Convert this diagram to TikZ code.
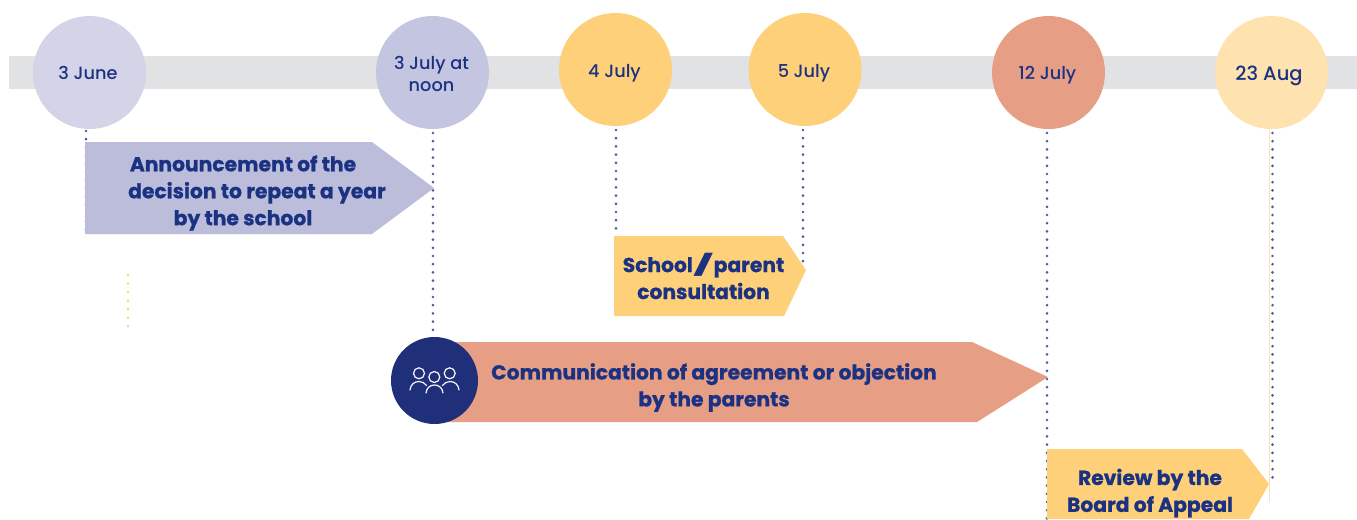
\documentclass[tikz,border=0pt]{standalone}
\usepackage{fontspec}
\setmainfont[BoldFeatures={FakeBold=0.9}]{Poppins}
\newfontfamily\datefont{Poppins Medium}
\definecolor{band}{HTML}{E1E2E4}
\definecolor{ink}{HTML}{1B3282}
\definecolor{lilaca}{HTML}{D3D4E8}
\definecolor{lilacb}{HTML}{C4C5E0}
\definecolor{lilacc}{HTML}{BCBDDB}
\definecolor{sun}{HTML}{FED07A}
\definecolor{salmon}{HTML}{E69E85}
\definecolor{cream}{HTML}{FEE2B0}
\definecolor{navy}{HTML}{1F2F7A}
\definecolor{dotc}{HTML}{4F5AA0}
\tikzset{
  x=0.75pt,y=-0.75pt,
  datenode/.style={circle,minimum size=84.75pt,inner sep=0pt},
  datetext/.style={text=ink,align=center,inner sep=0pt,
    font=\fontsize{13.3pt}{16.5pt}\datefont},
  labelnode/.style={text=ink,align=center,inner sep=0pt,
    font=\fontsize{15.2pt}{20.2pt}\selectfont\bfseries},
  dotline/.style={draw=dotc,line width=2.2pt,line cap=round,dash pattern=on 0pt off 6.15pt},
}
\begin{document}
\begin{tikzpicture}
\useasboundingbox (0,0) rectangle (1357,519);
\fill[white] (0,0) rectangle (1357,519);
\fill[band] (9,56) rectangle (1357,89);
% dates
\node[datenode,fill=lilaca] (d1) at (89.5,72.5) {};
\node[datenode,fill=lilacb] (d2) at (432.5,72.5) {};
\node[datenode,fill=sun] (d3) at (615.5,69.5) {};
\node[datenode,fill=sun] (d4) at (805,69.5) {};
\node[datenode,fill=salmon] (d5) at (1048.5,72.5) {};
\node[datenode,fill=cream] (d6) at (1271.5,72.5) {};
\node[datetext] (n1) at (88,73) {3 June};
\node[datetext] (n2) at (431.5,74) {3 July at\\noon};
\node[datetext] (n3) at (614.5,73.5) {4 July};
\node[datetext] (n4) at (804,73.5) {5 July};
\node[datetext] (n5) at (1047.5,75.5) {12 July};
\node[datetext,font=\fontsize{14.6pt}{16.5pt}\datefont] (n6) at (1269,76) {23 Aug};
% free ends of connectors
\coordinate (e1) at (86,234);
\coordinate (t1) at (86,131);
\coordinate (e2) at (433,332);
\coordinate (t2) at (433,133);
\coordinate (e3) at (616,232);
\coordinate (t3) at (616,130);
\coordinate (e4) at (803,265);
\coordinate (t4) at (803,130);
\coordinate (e5) at (1047,519);
\coordinate (t5) at (1047,133);
\coordinate (e6) at (1272.5,478);
\coordinate (t6) at (1272.5,133);
\coordinate (c0) at (1269.5,130);
\coordinate (c1) at (1269.5,502);
\coordinate (y0) at (128,275);
\coordinate (y1) at (128,327);
\draw[cream,line width=0.9pt] (c0) -- (c1);
\draw[dotline] (t1) -- (e1);
\draw[dotline] (t2) -- (e2);
\draw[dotline] (t3) -- (e3);
\draw[dotline] (t4) -- (e4);
\draw[dotline] (t5) -- (e5);
\draw[dotline] (t6) -- (e6);
\draw[draw=sun,line width=2.1pt,line cap=round,dash pattern=on 0pt off 6.4pt] (y0) -- (y1);
% arrows
\fill[lilacc] (85,142) -- (372,142) -- (434,188) -- (372,234) -- (85,234) -- cycle;
\fill[sun] (614,236) -- (783,236) -- (806,270) -- (784,316) -- (614,316) -- cycle;
\fill[salmon] (440,342) -- (972,342) -- (1048,377) -- (977,422) -- (440,422) -- cycle;
\fill[sun] (1047,449) -- (1242,449) -- (1269,484) -- (1249,519) -- (1047,519) -- cycle;
% labels
\node[labelnode] (l1) at (243,193) {Announcement of the\\\hspace*{21pt}decision to repeat a year\\by the school};
\node[labelnode] (l2) at (703.5,276) {School\kern1pt{\datefont\scalebox{2.1}[1]{/}}\kern1pt parent\\consultation};
\node[labelnode] (l3) at (714,387.5) {Communication of agreement or objection\\by the parents};
\node[labelnode] (l4) at (1150,493) {Review by the\\Board of Appeal};
% icon
\node[circle,fill=navy,minimum size=65.25pt,inner sep=0pt] (badge) at (434.5,380.5) {};
\begin{scope}[draw=white!90!lilacb,line width=0.9pt,line cap=round]
\draw (419,373.3) circle[radius=5.5];
\draw (434.3,377) circle[radius=5.5];
\draw (449.7,373.3) circle[radius=5.5];
\draw (410,390) .. controls (410.5,384) and (415,381.5) .. (419,381.5) .. controls (422,381.5) and (425,383) .. (426.5,385.5);
\draw (426,393) .. controls (426.5,388) and (430,385) .. (434.5,385) .. controls (439,385) and (442.5,388) .. (443,393);
\draw (442.5,385.5) .. controls (444,383) and (447,381.5) .. (450,381.5) .. controls (454,381.5) and (458.5,384) .. (459,390);
\end{scope}
\end{tikzpicture}
\end{document}
